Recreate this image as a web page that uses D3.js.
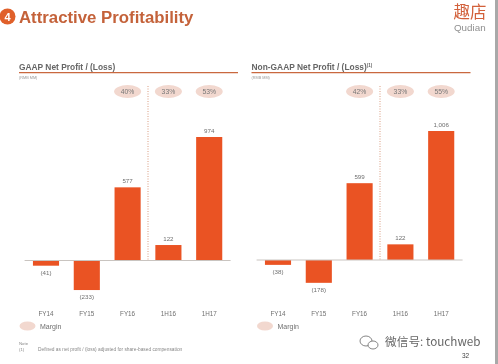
<!DOCTYPE html>
<html>
<head>
<meta charset="utf-8">
<script src="https://cdn.jsdelivr.net/npm/d3@7"></script>
<style>
html, body { margin: 0; padding: 0; background: #fff; overflow: hidden; }
svg { display: block; font-family: "Liberation Sans", Arial, sans-serif; filter: blur(0.5px); }
</style>
</head>
<body>
<script>
var w = 498;
var h = 364;
var orange = "#ea5323";
var rust = "#c4623a";
var grey = "#6f6f6f";

var periods = ["FY14", "FY15", "FY16", "1H16", "1H17"];
var gaapValues = [-41, -233, 577, 122, 974];
var nonGaapValues = [-38, -178, 599, 122, 1006];
var gaapMargins = [null, null, "40%", "33%", "53%"];
var nonGaapMargins = [null, null, "42%", "33%", "55%"];

var svg = d3.select("body").append("svg")
    .attr("width", w)
    .attr("height", h);

svg.append("rect").attr("x", 495).attr("y", 0).attr("width", 3).attr("height", h).attr("fill", "#a9a9a9");

// slide header
svg.append("circle").attr("cx", 7.5).attr("cy", 16.5).attr("r", 8).attr("fill", "#e0602a");
svg.append("text").attr("x", 7.5).attr("y", 20.5).attr("text-anchor", "middle")
    .attr("font-size", 11).attr("font-weight", "bold").attr("fill", "#fff").text("4");
svg.append("text").attr("x", 19).attr("y", 23)
    .attr("font-size", 16.8).attr("font-weight", "bold").attr("fill", rust).text("Attractive Profitability");

// logo
svg.append("text").attr("x", 453.5).attr("y", 17.5)
    .attr("font-family", "'Noto Sans CJK SC'").attr("font-size", 16.5).attr("fill", "#d2603a").text("趣店");
svg.append("text").attr("x", 454).attr("y", 31)
    .attr("font-size", 9.8).attr("fill", "#8f8f8f").text("Qudian");

function drawPanel(opt) {
    var g = svg.append("g");

    var x = d3.scaleBand()
        .domain(periods)
        .range([opt.x0, opt.x0 + 204])
        .paddingInner(0.36)
        .paddingOuter(0.18);

    var y = d3.scaleLinear()
        .domain([0, opt.maxValue])
        .range([opt.baseY, opt.topY]);

    g.append("text").attr("x", opt.headX).attr("y", 69.7)
        .attr("font-size", 8.4).attr("font-weight", "bold").attr("fill", "#666")
        .text(opt.title)
        .call(function(t) {
            if (opt.sup) {
                t.append("tspan").attr("dy", -3).attr("font-size", 4.5).text(opt.sup);
            }
        });
    g.append("line")
        .attr("x1", opt.headX).attr("x2", opt.headX + 219)
        .attr("y1", 72.7).attr("y2", 72.7)
        .attr("stroke", "#c9683f").attr("stroke-width", 1.2);
    g.append("text").attr("x", opt.headX).attr("y", 79)
        .attr("font-size", 3.8).attr("fill", "#999").text("(RMB MM)");

    // 1H / FY separator
    g.append("line")
        .attr("x1", x("1H16") - x.step() + x.bandwidth() + (x.step() - x.bandwidth()) / 2)
        .attr("x2", x("1H16") - x.step() + x.bandwidth() + (x.step() - x.bandwidth()) / 2)
        .attr("y1", 86).attr("y2", opt.baseY)
        .attr("stroke", "#d99c80").attr("stroke-width", 1).attr("stroke-dasharray", "1,1.5");

    // margin pills
    var pills = g.selectAll(".pill")
        .data(opt.margins.map(function(m, i) { return {period: periods[i], margin: m}; })
            .filter(function(d) { return d.margin; }))
        .enter().append("g").attr("class", "pill")
        .attr("transform", function(d) {
            return "translate(" + (x(d.period) + x.bandwidth() / 2) + ",91.5)";
        });
    pills.append("ellipse").attr("rx", 13.5).attr("ry", 6.5).attr("fill", "#f2d8cf");
    pills.append("text").attr("y", 2.3).attr("text-anchor", "middle")
        .attr("font-size", 6.8).attr("fill", "#777").text(function(d) { return d.margin; });

    // bars
    g.selectAll(".bar")
        .data(opt.values)
        .enter().append("rect").attr("class", "bar")
        .attr("x", function(d, i) { return x(periods[i]); })
        .attr("y", function(d) { return y(Math.max(d, 0)); })
        .attr("width", x.bandwidth())
        .attr("height", function(d) { return Math.abs(y(d) - y(0)); })
        .attr("fill", orange);

    // baseline
    g.append("line")
        .attr("x1", opt.x0 - 1).attr("x2", opt.x0 + 205)
        .attr("y1", y(0)).attr("y2", y(0))
        .attr("stroke", "#c9c4c0").attr("stroke-width", 1);

    // value labels
    g.selectAll(".val")
        .data(opt.values)
        .enter().append("text").attr("class", "val")
        .attr("x", function(d, i) { return x(periods[i]) + x.bandwidth() / 2; })
        .attr("y", function(d) { return d < 0 ? y(d) + 9 : y(d) - 4; })
        .attr("text-anchor", "middle")
        .attr("font-size", 6.2).attr("fill", grey)
        .text(function(d) { return d < 0 ? "(" + Math.abs(d) + ")" : d3.format(",")(d); });

    // period axis, line hidden
    var xAxis = d3.axisBottom(x).tickSize(0).tickPadding(0);
    var ax = g.append("g").attr("transform", "translate(0,312)").call(xAxis);
    ax.select(".domain").remove();
    ax.selectAll("text")
        .attr("font-family", "'Liberation Sans', Arial, sans-serif")
        .attr("font-size", 6.3).attr("fill", grey);

    // legend
    g.append("ellipse").attr("cx", opt.legendX).attr("cy", 326)
        .attr("rx", 8).attr("ry", 4.6).attr("fill", "#f2d8cf");
    g.append("text").attr("x", opt.legendX + 12.5).attr("y", 329)
        .attr("font-size", 7).attr("fill", grey).text("Margin");
}

drawPanel({
    x0: 25.6, headX: 19, legendX: 27.5, baseY: 260.5, topY: 137, maxValue: 974,
    title: "GAAP Net Profit / (Loss)", sup: null,
    values: gaapValues, margins: gaapMargins
});
drawPanel({
    x0: 257.6, headX: 251.5, legendX: 265, baseY: 260, topY: 131, maxValue: 1006,
    title: "Non-GAAP Net Profit / (Loss)", sup: "(1)",
    values: nonGaapValues, margins: nonGaapMargins
});

// footnote
svg.append("text").attr("x", 19).attr("y", 345).attr("font-size", 4.3).attr("fill", "#888").text("Note");
svg.append("text").attr("x", 19).attr("y", 351).attr("font-size", 4.3).attr("fill", "#888").text("(1)");
svg.append("text").attr("x", 38).attr("y", 351).attr("font-size", 4.8).attr("fill", "#888")
    .text("Defined as net profit / (loss) adjusted for share-based compensation");

// watermark
var wm = svg.append("g").attr("fill", "#fff").attr("stroke", "#666").attr("stroke-width", 0.8);
wm.append("ellipse").attr("cx", 366).attr("cy", 341).attr("rx", 6).attr("ry", 5);
wm.append("ellipse").attr("cx", 373).attr("cy", 345).attr("rx", 5).attr("ry", 4);
svg.append("text").attr("x", 385).attr("y", 346)
    .attr("font-family", "'Noto Sans CJK SC'").attr("font-size", 11.7).attr("fill", "#666")
    .text("微信号: touchweb");

svg.append("text").attr("x", 462).attr("y", 358).attr("font-size", 6.5).attr("fill", "#444").text("32");
</script>
</body>
</html>
